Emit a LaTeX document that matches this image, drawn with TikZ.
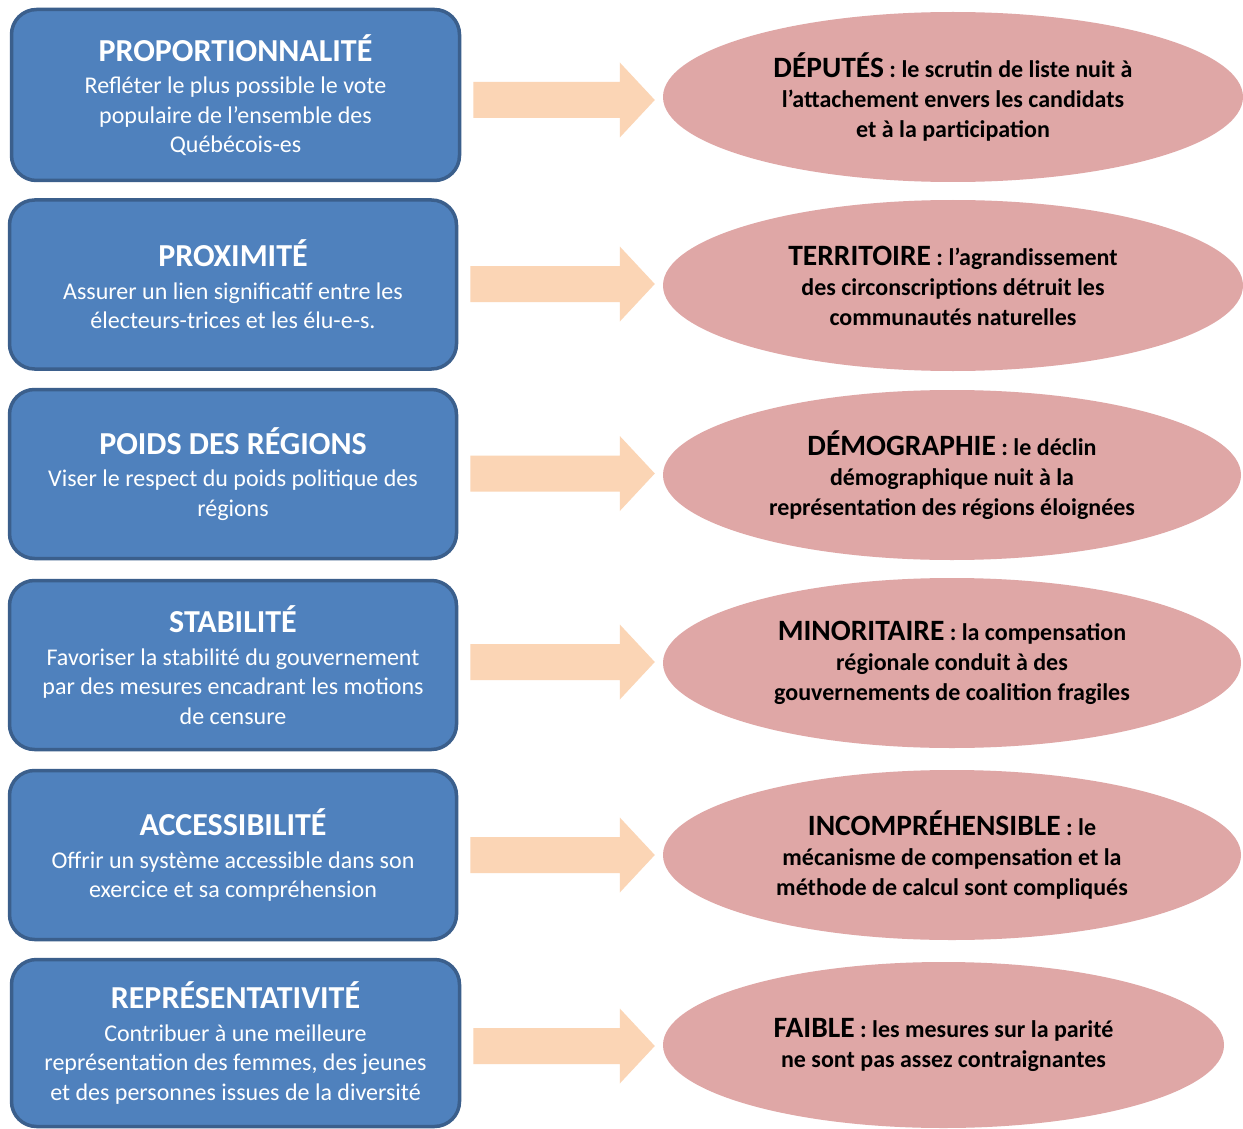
\documentclass[tikz,border=0pt]{standalone}
\usepackage{fontspec}
\setmainfont{Carlito}
\usetikzlibrary{shapes.geometric,calc}
\definecolor{boxfill}{HTML}{4F81BD}
\definecolor{boxline}{HTML}{3B5F8C}
\definecolor{ellfill}{HTML}{DFA7A6}
\definecolor{arrfill}{HTML}{FBD5B5}
\newcommand\ctitle[1]{{\fontsize{32}{36}\selectfont\bfseries #1}}
\newcommand\etitle[1]{{\fontsize{29.5}{30}\selectfont #1}}
% #3: vertical offset of the arrow (pixels, downwards)
\newcommand\flecha[3]{%
  \fill[arrfill] let \p1=(#1.east), \p2=(#2.west), \p3=($(\p1)!0.5!(\p2)+(0,#3)$) in
    (\x1+12pt,\y3-18pt) -- (\x2-43pt,\y3-18pt) -- (\x2-43pt,\y3-37.5pt) --
    (\x2-8pt,\y3) -- (\x2-43pt,\y3+37.5pt) -- (\x2-43pt,\y3+18pt) --
    (\x1+12pt,\y3+18pt) -- cycle;}
\begin{document}
\begin{tikzpicture}[x=1pt,y=-1pt,
  critbox/.style={draw=boxline, line width=3.5pt, fill=boxfill, rounded corners=25pt,
    minimum width=447pt, minimum height=169pt, align=center, text=white,
    font=\fontsize{24}{29.5}\selectfont, inner sep=0pt},
  critell/.style={ellipse, fill=ellfill, inner sep=0pt, align=center,
    minimum width=578pt, minimum height=170pt,
    font=\bfseries\fontsize{24}{30}\selectfont}]
\useasboundingbox[fill=white] (0,0) rectangle (1243,1129);

\node[critbox, minimum width=448pt, minimum height=171pt] (b1) at (235.5,95)
  {\ctitle{PROPORTIONNALITÉ}\\[3pt] Refléter le plus possible le vote\\ populaire de l’ensemble des\\ Québécois-es};
\node[critbox] (b2) at (233,284.5)
  {\ctitle{PROXIMITÉ}\\[3pt] Assurer un lien significatif entre les\\ électeurs-trices et les élu-e-s.};
\node[critbox] (b3) at (233,474)
  {\ctitle{POIDS DES RÉGIONS}\\[3pt] Viser le respect du poids politique des\\ régions};
\node[critbox] (b4) at (233,665)
  {\ctitle{STABILITÉ}\\[3pt] Favoriser la stabilité du gouvernement\\ par des mesures encadrant les motions\\ de censure};
\node[critbox] (b5) at (233,855)
  {\ctitle{ACCESSIBILITÉ}\\[3pt] Offrir un système accessible dans son\\ exercice et sa compréhension};
\node[critbox, minimum width=448pt, minimum height=167pt] (b6) at (235.5,1043)
  {\ctitle{REPRÉSENTATIVITÉ}\\[3pt] Contribuer à une meilleure\\ représentation des femmes, des jeunes\\ et des personnes issues de la diversité};

\node[critell, minimum width=580pt] (e1) at (953,97)
  {\etitle{DÉPUTÉS} : le scrutin de liste nuit à\\ l’attachement envers les candidats\\ et à la participation};
\node[critell, minimum width=580pt, minimum height=171pt] (e2) at (953,285.5)
  {\etitle{TERRITOIRE} : l’agrandissement\\ des circonscriptions détruit les\\ communautés naturelles};
\node[critell] (e3) at (952,475)
  {\etitle{DÉMOGRAPHIE} : le déclin\\ démographique nuit à la\\ représentation des régions éloignées};
\node[critell] (e4) at (952,663)
  {\etitle{MINORITAIRE} : la compensation\\ régionale conduit à des\\ gouvernements de coalition fragiles};
\node[critell] (e5) at (952,855)
  {\etitle{INCOMPRÉHENSIBLE} : le\\ mécanisme de compensation et la\\ méthode de calcul sont compliqués};
\node[critell, minimum width=561pt, minimum height=166pt] (e6) at (943.5,1045)
  {\etitle{FAIBLE} : les mesures sur la parité\\ ne sont pas assez contraignantes};

\flecha{b1}{e1}{4}
\flecha{b2}{e2}{-1}
\flecha{b3}{e3}{-1}
\flecha{b4}{e4}{-2}
\flecha{b5}{e5}{0}
\flecha{b6}{e6}{2}
\end{tikzpicture}
\end{document}
